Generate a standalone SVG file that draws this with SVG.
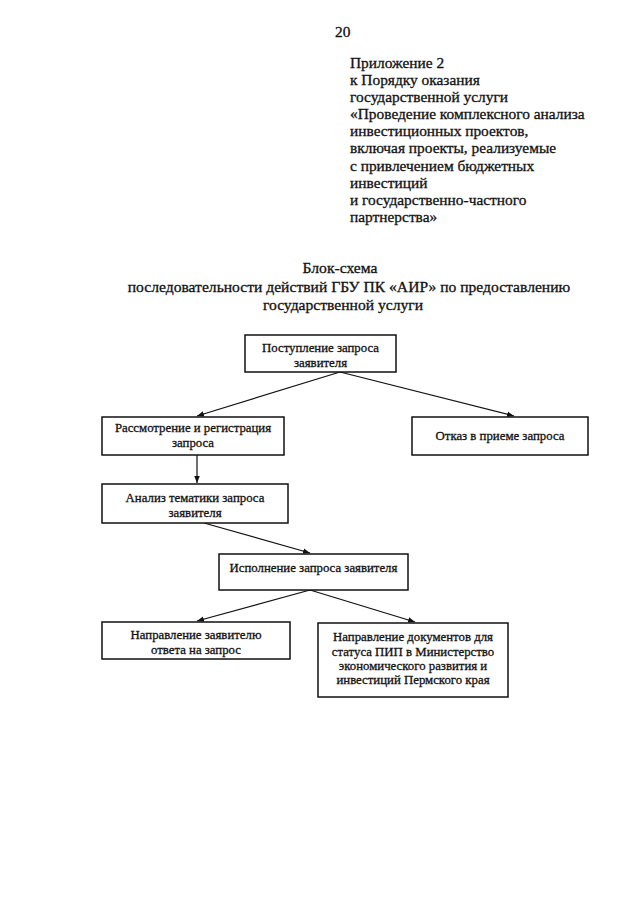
<svg xmlns="http://www.w3.org/2000/svg" width="640" height="905" viewBox="0 0 640 905">
<style>
text{font-family:"Liberation Serif","Times New Roman",serif;fill:#111;stroke:#111;stroke-width:0.3}
.h{font-size:15.4px}
.b{font-size:12.8px;text-anchor:middle}
.t{font-size:15.6px;text-anchor:middle}
rect{fill:#fff;stroke:#111;stroke-width:1.5}
.c line{stroke:#111;stroke-width:1.2}
</style>
<defs>
<marker id="a" viewBox="0 0 10 10" refX="10" refY="5" markerWidth="7" markerHeight="7" orient="auto" markerUnits="userSpaceOnUse">
<path d="M0,1 L10,5 L0,9 z" fill="#111"/>
</marker>
</defs>
<rect x="0" y="0" width="640" height="905" style="fill:#fff;stroke:none"/>
<g id="header">
<text class="h" x="335" y="37">20</text>
<text class="h" x="350" y="68">Приложение 2</text>
<text class="h" x="350" y="85">к Порядку оказания</text>
<text class="h" x="350" y="102">государственной услуги</text>
<text class="h" x="350" y="119">«Проведение комплексного анализа</text>
<text class="h" x="350" y="136">инвестиционных проектов,</text>
<text class="h" x="350" y="153">включая проекты, реализуемые</text>
<text class="h" x="350" y="171">с привлечением бюджетных</text>
<text class="h" x="350" y="188">инвестиций</text>
<text class="h" x="350" y="205">и государственно-частного</text>
<text class="h" x="350" y="222">партнерства»</text>
</g>
<g id="title">
<text class="t" x="340" y="273">Блок-схема</text>
<text class="t" x="349" y="292">последовательности действий ГБУ ПК «АИР» по предоставлению</text>
<text class="t" x="343" y="310">государственной услуги</text>
</g>
<g class="c" id="connectors">
<line x1="340" y1="372" x2="197" y2="416" marker-end="url(#a)"/>
<line x1="340" y1="372" x2="514" y2="416" marker-end="url(#a)"/>
<line x1="197" y1="455" x2="197" y2="483" marker-end="url(#a)"/>
<line x1="204" y1="523" x2="310" y2="553" marker-end="url(#a)"/>
<line x1="310" y1="590" x2="197" y2="621" marker-end="url(#a)"/>
<line x1="310" y1="590" x2="415" y2="622" marker-end="url(#a)"/>
</g>
<g id="n1">
<rect x="245" y="335" width="151" height="37"/>
<text class="b" x="320.5" y="352">Поступление запроса</text>
<text class="b" x="320.5" y="367">заявителя</text>
</g>
<g id="n2">
<rect x="102" y="417" width="182" height="38"/>
<text class="b" x="193" y="432">Рассмотрение и регистрация</text>
<text class="b" x="193" y="447">запроса</text>
</g>
<g id="n3">
<rect x="412" y="417" width="176" height="38"/>
<text class="b" x="500" y="440">Отказ в приеме запроса</text>
</g>
<g id="n4">
<rect x="102" y="484" width="186" height="39"/>
<text class="b" x="195" y="502">Анализ тематики запроса</text>
<text class="b" x="195" y="517">заявителя</text>
</g>
<g id="n5">
<rect x="219" y="554" width="189" height="36"/>
<text class="b" x="313.5" y="572">Исполнение запроса заявителя</text>
</g>
<g id="n6">
<rect x="102" y="622" width="188" height="37"/>
<text class="b" x="196" y="639">Направление заявителю</text>
<text class="b" x="196" y="654">ответа на запрос</text>
</g>
<g id="n7">
<rect x="318" y="623" width="190" height="74"/>
<text class="b" x="413" y="641">Направление документов для</text>
<text class="b" x="413" y="656">статуса ПИП в Министерство</text>
<text class="b" x="413" y="670">экономического развития и</text>
<text class="b" x="413" y="684">инвестиций Пермского края</text>
</g>
</svg>
